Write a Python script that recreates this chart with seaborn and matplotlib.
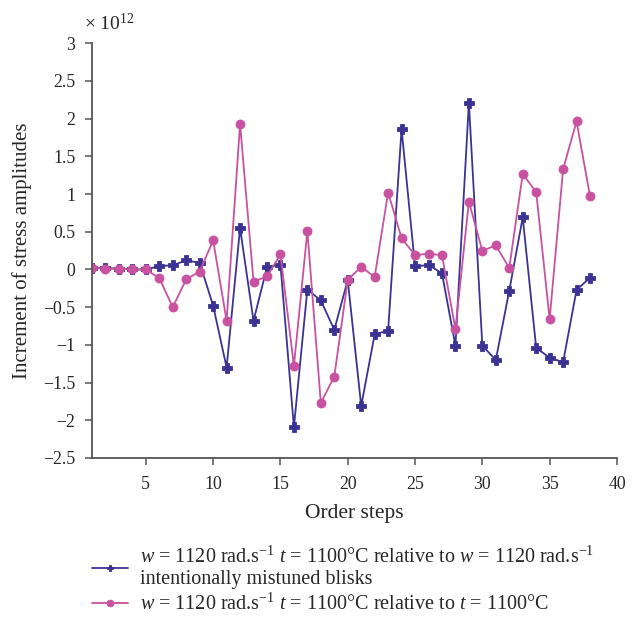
import numpy as np
import pandas as pd
import matplotlib
matplotlib.use("Agg")
import matplotlib.pyplot as plt
import seaborn as sns

steps = list(range(1, 39))
series_mistuned = [0.02, 0.02, 0.01, 0.0, 0.0, 0.044, 0.057, 0.12, 0.088, -0.48,
                   -1.30, 0.548, -0.68, 0.03, 0.066, -2.09, -0.266, -0.41, -0.80, -0.14,
                   -1.81, -0.86, -0.81, 1.863, 0.04, 0.06, -0.05, -1.01, 2.21, -1.01,
                   -1.20, -0.28, 0.69, -1.04, -1.17, -1.23, -0.27, -0.11]
series_temp = [0.02, 0.01, 0.01, 0.0, 0.0, -0.115, -0.50, -0.13, -0.027, 0.385,
               -0.68, 1.93, -0.16, -0.093, 0.20, -1.28, 0.51, -1.77, -1.42, -0.138,
               0.035, -0.10, 1.02, 0.415, 0.19, 0.21, 0.19, -0.79, 0.90, 0.247,
               0.32, 0.02, 1.266, 1.027, -0.66, 1.33, 1.965, 0.97]
label1 = ("$w$ = 1120 rad.s$^{-1}$ $t$ = 1100°C relative to $w$ = 1120 rad.s$^{-1}$\n"
          "intentionally mistuned blisks")
label2 = "$w$ = 1120 rad.s$^{-1}$ $t$ = 1100°C relative to $t$ = 1100°C"
yticks = [3, 2.5, 2, 1.5, 1, 0.5, 0, -0.5, -1, -1.5, -2, -2.5]
xticks = [5, 10, 15, 20, 25, 30, 35, 40]

sns.set_style("ticks")
plt.rcParams['font.family'] = ['Liberation Serif', 'DejaVu Serif']
plt.rcParams['mathtext.fontset'] = 'custom'
plt.rcParams['mathtext.rm'] = 'Liberation Serif'
plt.rcParams['mathtext.it'] = 'Liberation Serif:italic'

df = pd.DataFrame({"step": steps * 2,
                   "value": series_mistuned + series_temp,
                   "series": [label1] * len(steps) + [label2] * len(steps)})

fig = plt.figure(figsize=(6.38, 6.18), dpi=100)
ax = fig.add_axes([0.1442, 0.2589, 0.8228, 0.6711])
blue = "#3b3393"
pink = "#c8529f"
sns.lineplot(data=df, x="step", y="value", hue="series", style="series",
             palette=[blue, pink], markers=["P", "o"], dashes=False,
             markersize=6.5, linewidth=1.3, ax=ax)
for ln in ax.lines:
    ln.set_markeredgecolor(ln.get_color())
    ln.set_markeredgewidth(0.6)

ax.set_xlim(1, 40)
ax.set_ylim(-2.5, 3)
ax.set_xticks(xticks)
ax.set_yticks(yticks)
ax.set_yticklabels([("\u2212" + f"{abs(v):g}") if v < 0 else f"{v:g}" for v in yticks])
for s in ["top", "right"]:
    ax.spines[s].set_visible(False)
for s in ["left", "bottom"]:
    ax.spines[s].set_color("#555555")
    ax.spines[s].set_linewidth(1.3)
ax.tick_params(axis="both", labelsize=12.8, color="#555555", length=5, width=1.1)
ax.tick_params(axis="x", pad=8)
ax.tick_params(axis="y", pad=7)
ax.set_xlabel("Order steps", fontsize=15.5, labelpad=8)
ax.set_ylabel("Increment of stress amplitudes", fontsize=15, labelpad=8)
fig.text(0.132, 0.962, "× 10$^{12}$", fontsize=14, ha="left", va="center")

handles, labels = ax.get_legend_handles_labels()
for h in handles:
    h.set_markeredgecolor(h.get_color())
ax.legend(handles=handles, labels=labels, loc="upper left",
          bbox_to_anchor=(0.128, 0.132), bbox_transform=fig.transFigure,
          frameon=False, fontsize=14.5, handlelength=1.8, handletextpad=0.6,
          labelspacing=0.2, borderpad=0, markerscale=0.75)

fig.savefig("out.png", dpi=100)
